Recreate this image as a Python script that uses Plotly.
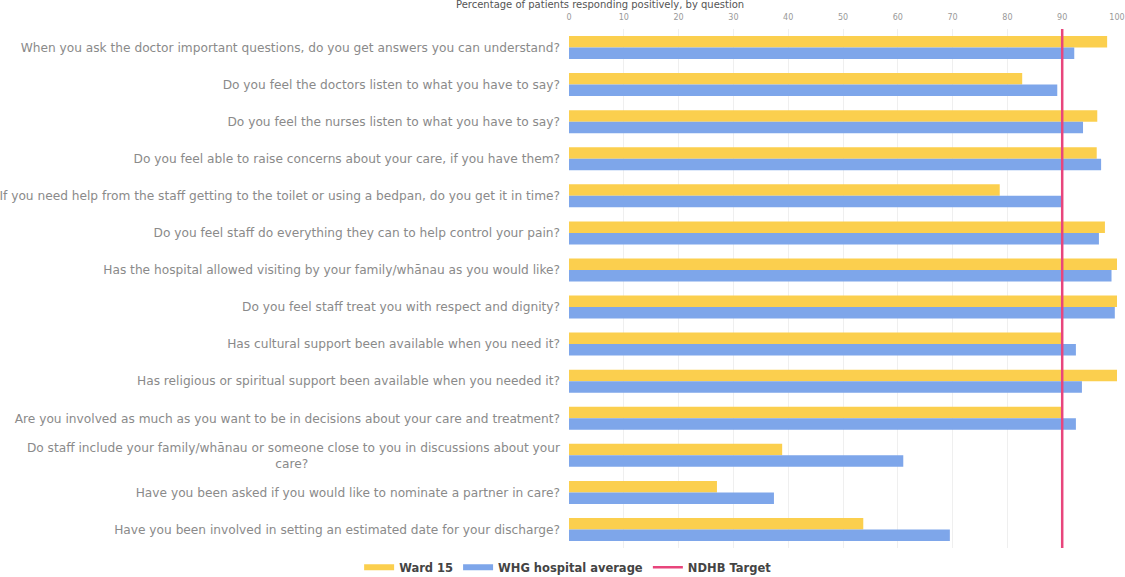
import plotly.graph_objects as go

NBSP = "\u00a0"

questions = [
    "When you ask the doctor important questions, do you get answers you can understand?",
    "Do you feel the doctors listen to what you have to say?",
    "Do you feel the nurses listen to what you have to say?",
    "Do you feel able to raise concerns about your care, if you have them?",
    "If you need help from the staff getting to the toilet or using a bedpan, do you get it in time?",
    "Do you feel staff do everything they can to help control your pain?",
    "Has the hospital allowed visiting by your family/whānau as you would like?",
    "Do you feel staff treat you with respect and dignity?",
    "Has cultural support been available when you need it?",
    "Has religious or spiritual support been available when you needed it?",
    "Are you involved as much as you want to be in decisions about your care and treatment?",
    "Do staff include your family/whānau or someone close to you in discussions about your<br>care?" + NBSP * 65,
    "Have you been asked if you would like to nominate a partner in care?",
    "Have you been involved in setting an estimated date for your discharge?",
]

ward_15 = [98.2, 82.7, 96.4, 96.3, 78.6, 97.8, 100, 100, 90, 100, 90, 38.9, 27.0, 53.7]
hospital_avg = [92.2, 89.1, 93.8, 97.1, 90.0, 96.7, 99.0, 99.6, 92.5, 93.6, 92.5, 61.0, 37.4, 69.5]
target = 90

x_ticks = [0, 10, 20, 30, 40, 50, 60, 70, 80, 90, 100]

FONT = "DejaVu Sans, Arial, sans-serif"
YELLOW = "#FBCF4E"
BLUE = "#7EA6EA"
PINK = "#E8457C"

fig = go.Figure()
fig.add_trace(go.Bar(
    y=questions, x=ward_15, orientation="h", name="Ward 15", showlegend=False,
    marker=dict(color=YELLOW, line=dict(width=0)), legendgroup="ward",
))
fig.add_trace(go.Bar(
    y=questions, x=hospital_avg, orientation="h", name="WHG hospital average",
    showlegend=False, marker=dict(color=BLUE, line=dict(width=0)), legendgroup="hosp",
))
fig.add_trace(go.Scatter(
    x=[target, target], y=[0, 1], yaxis="y2", mode="lines", name="NDHB Target",
    line=dict(color=PINK, width=2.5), hoverinfo="skip", showlegend=False,
    legendgroup="target",
))

# Legend keys drawn as short thick strokes
for name, color, width, group in [
    ("Ward 15", YELLOW, 6, "ward"),
    ("WHG hospital average", BLUE, 6, "hosp"),
    ("NDHB Target", PINK, 2.5, "target"),
]:
    fig.add_trace(go.Scatter(
        x=[None], y=[None], mode="lines", name=name, legendgroup=group,
        line=dict(color=color, width=width), showlegend=True,
    ))

fig.update_layout(
    width=1125, height=577,
    margin=dict(l=569, r=8, t=29, b=29, autoexpand=False),
    paper_bgcolor="white", plot_bgcolor="white",
    font=dict(family=FONT, size=11, color="#777777"),
    barmode="group", bargap=0.38, bargroupgap=0.0,
    showlegend=True,
    legend=dict(
        orientation="h", x=0.505, xanchor="center", xref="container",
        y=0.017, yanchor="middle", yref="container",
        font=dict(family=FONT, size=11.5, color="#444444", weight="bold"),
        itemwidth=30, traceorder="normal",
    ),
    xaxis=dict(
        range=[0, 100], side="top", tickvals=x_ticks, automargin=False,
        tickfont=dict(size=8, color="#999999"), ticklabelstandoff=6,
        showgrid=True, gridcolor="#EFEFEF", gridwidth=1,
        zeroline=False, showline=False, ticks="",
    ),
    yaxis=dict(
        autorange="reversed", showgrid=False, ticks="", showline=False,
        automargin=False,
        tickfont=dict(size=12.2, color="#8A8A8A"), ticklabelstandoff=8,
    ),
    yaxis2=dict(
        overlaying="y", range=[0, 1], visible=False, fixedrange=True,
    ),
    annotations=[dict(
        text="Percentage of patients responding positively, by question",
        x=0.057, xref="paper", xanchor="center",
        y=1.047, yref="paper", yanchor="middle",
        showarrow=False, font=dict(family=FONT, size=10, color="#555555"),
    )],
)

fig.write_html("out.html")
